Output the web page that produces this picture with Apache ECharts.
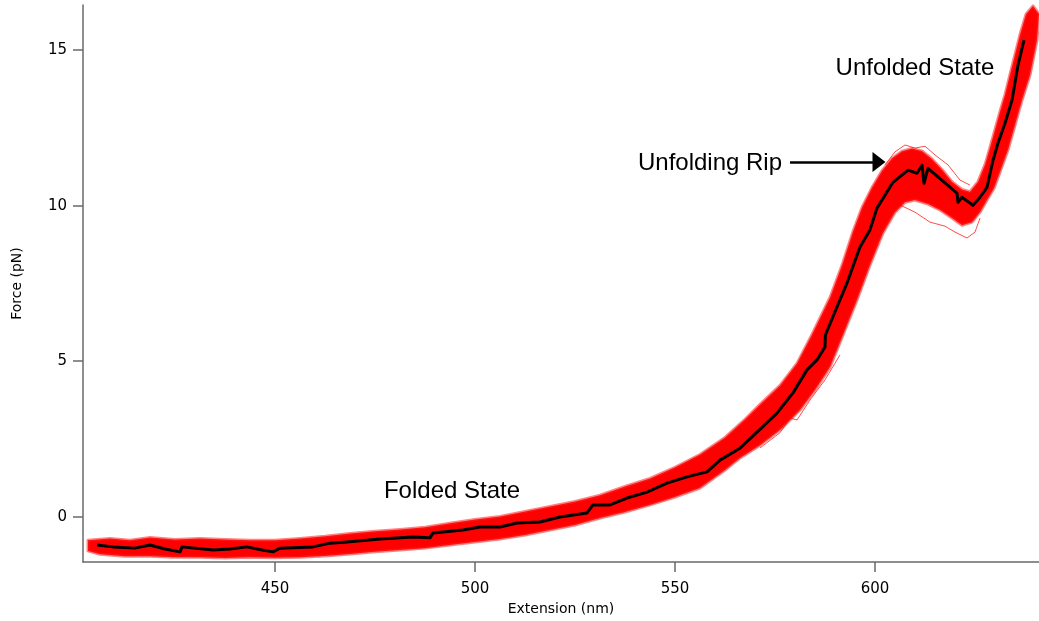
<!DOCTYPE html>
<html>
<head>
<meta charset="utf-8">
<script src="https://cdn.jsdelivr.net/npm/echarts@6/dist/echarts.min.js"></script>
<style>
html,body{margin:0;padding:0;background:#fff;}
#chart{width:1039px;height:621px;}
</style>
</head>
<body>
<div id="chart"></div>
<script>
// ---- tick labels ----
const xTicks = [450, 500, 550, 600];
const yTicks = [0, 5, 10, 15];

// ---- black (average) trace ----
const blackX = [405.5,409.5,415.0,418.75,422.5,426.25,426.75,434.5,438.75,443.0,446.75,449.5,451.25,459.5,463.75,468.0,476.25,484.5,488.75,489.5,497.0,501.25,506.25,510.5,516.25,521.25,528.0,529.5,533.75,538.0,543.0,548.0,553.0,558.0,561.25,566.25,570.5,575.5,579.5,583.0,585.5,587.5,587.6,590.5,593.0,596.25,598.75,600.5,604.5,608.25,610.5,611.75,612.25,613.25,620.5,620.75,621.75,624.5,626.25,628.0,629.5,630.75,632.5,634.25,635.75,637.25];
const blackY = [-0.91,-0.97,-1.01,-0.91,-1.04,-1.13,-0.97,-1.07,-1.04,-0.97,-1.07,-1.13,-1.01,-0.97,-0.85,-0.81,-0.72,-0.65,-0.68,-0.52,-0.43,-0.33,-0.33,-0.20,-0.17,-0.01,0.12,0.38,0.38,0.60,0.79,1.08,1.28,1.44,1.82,2.20,2.72,3.33,3.98,4.72,5.04,5.46,5.84,6.74,7.51,8.67,9.22,9.92,10.75,11.14,11.04,11.30,10.72,11.20,10.40,10.11,10.27,10.01,10.27,10.59,11.46,12.01,12.65,13.39,14.52,15.32];

// ---- red band of individual traces: upper/left edge (left to right) ----
const bandUpperX = [403.25,408.75,413.75,418.75,425.0,431.25,437.5,443.75,450.0,456.25,462.5,468.75,475.0,481.25,487.5,493.75,500.0,506.25,512.5,518.75,525.0,531.25,537.5,543.75,550.0,556.25,562.5,567.5,571.25,576.25,580.5,584.25,588.75,591.75,594.5,596.75,599.25,601.75,604.25,606.75,609.25,611.75,614.25,616.75,619.25,621.75,623.75,625.75,627.5,628.75,630.0,631.25,632.5,633.75,635.0,636.25,637.75,639.5];
const bandUpperY = [-0.76,-0.70,-0.76,-0.67,-0.73,-0.70,-0.73,-0.76,-0.76,-0.70,-0.63,-0.54,-0.47,-0.41,-0.34,-0.21,-0.09,0.01,0.17,0.33,0.49,0.69,0.97,1.23,1.59,2.00,2.55,3.13,3.61,4.22,4.93,5.86,7.05,8.08,9.17,9.94,10.58,11.12,11.52,11.75,11.84,11.76,11.50,11.16,10.77,10.52,10.45,10.77,11.32,11.87,12.45,13.03,13.57,14.22,14.86,15.50,16.15,16.42];
// ---- red band: lower/right edge (right to left) ----
const bandLowerX = [641.0,640.5,638.75,636.75,635.0,633.25,631.25,629.75,628.0,626.25,624.25,621.75,619.25,616.25,613.25,610.0,607.5,605.0,602.0,598.75,595.5,592.5,588.75,585.0,581.25,576.25,571.25,566.25,562.5,556.25,550.0,543.75,537.5,531.25,525.0,518.75,512.5,506.25,500.0,493.75,487.5,481.25,475.0,468.75,462.5,456.25,450.0,443.75,437.5,431.25,425.0,418.75,412.5,406.25,403.25];
const bandLowerY = [16.16,15.32,14.20,13.39,12.59,11.79,11.08,10.56,10.18,9.79,9.47,9.37,9.60,9.86,10.05,10.18,10.11,9.79,9.12,8.09,6.97,6.00,4.81,4.07,3.43,2.79,2.30,1.89,1.50,0.92,0.63,0.38,0.15,-0.04,-0.27,-0.43,-0.59,-0.72,-0.81,-0.91,-1.01,-1.07,-1.13,-1.20,-1.26,-1.30,-1.32,-1.30,-1.33,-1.30,-1.30,-1.27,-1.27,-1.21,-1.10];

// ---- a few stray individual traces just outside the band ----
const stray3X = [606.25,610.0,613.75,617.5,620.0,623.0,625.0,626.25];
const stray3Y = [10.02,9.79,9.47,9.34,9.15,8.96,9.15,9.60];
const stray4X = [602.5,605.0,607.5,610.0,612.5,615.0,618.25,621.25,623.75];
const stray4Y = [11.31,11.73,11.95,11.85,11.91,11.63,11.31,10.82,10.66];
const stray5X = [571.25,576.25,578.75,580.5,583.75,587.5,591.25];
const stray5Y = [2.21,2.70,3.17,3.11,3.75,4.40,5.20];

// ---- annotations ----
const annotations = [
  {text: 'Unfolded State', x: 610.0, y: 14.40},
  {text: 'Unfolding Rip', x: 558.75, y: 11.36},
  {text: 'Folded State', x: 494.25, y: 0.83}
];
const arrowFrom = [578.75, 11.40];
const arrowTo = [601.0, 11.40];

const zip = (xs, ys) => xs.map((v, i) => [v, ys[i]]);

const chart = echarts.init(document.getElementById('chart'), null, {renderer: 'canvas'});

const strayStyle = {color: 'rgba(255,0,0,0.7)', width: 1};
function strayLine(xs, ys) {
  return {type: 'line', data: zip(xs, ys), symbol: 'none', silent: true,
          lineStyle: strayStyle, z: 2, animation: false};
}

const option = {
  animation: false,
  backgroundColor: '#ffffff',
  grid: {left: 83, right: 0, top: 5, bottom: 59, containLabel: false, outerBoundsMode: 'none'},
  xAxis: {
    type: 'value', min: 402, max: 641,
    name: 'Extension (nm)', nameLocation: 'middle', nameGap: 40,
    nameTextStyle: {fontFamily: 'DejaVu Sans', fontSize: 14, color: '#000'},
    axisLine: {show: true, onZero: false, lineStyle: {color: '#6a6a6a', width: 1.5}},
    axisTick: {show: true, inside: false, length: 10, customValues: xTicks, lineStyle: {color: '#6a6a6a', width: 1.5}},
    axisLabel: {customValues: xTicks, margin: 20, fontFamily: 'DejaVu Sans', fontSize: 15, color: '#000'},
    splitLine: {show: false}
  },
  yAxis: {
    type: 'value', min: -1.456, max: 16.45,
    name: 'Force (pN)', nameLocation: 'middle', nameGap: 59, nameRotate: 90,
    nameTextStyle: {fontFamily: 'DejaVu Sans', fontSize: 14, color: '#000'},
    axisLine: {show: true, onZero: false, lineStyle: {color: '#6a6a6a', width: 1.5}},
    axisTick: {show: true, inside: false, length: 10, customValues: yTicks, lineStyle: {color: '#6a6a6a', width: 1.5}},
    axisLabel: {customValues: yTicks, margin: 16, fontFamily: 'DejaVu Sans', fontSize: 15, color: '#000'},
    splitLine: {show: false}
  },
  series: [
    {
      type: 'custom', silent: true, z: 1,
      data: [[bandUpperX[0], bandUpperY[0]]],
      renderItem: function (params, api) {
        const pts = [];
        for (let i = 0; i < bandUpperX.length; i++) pts.push(api.coord([bandUpperX[i], bandUpperY[i]]));
        for (let i = 0; i < bandLowerX.length; i++) pts.push(api.coord([bandLowerX[i], bandLowerY[i]]));
        return {type: 'polygon', shape: {points: pts},
                style: {fill: '#ff0000', stroke: 'rgba(255,30,30,0.55)', lineWidth: 3, lineJoin: 'round'}};
      }
    },
    strayLine(stray3X, stray3Y),
    strayLine(stray4X, stray4Y),
    strayLine(stray5X, stray5Y),
    {
      type: 'line', data: zip(blackX, blackY), symbol: 'none', silent: true, z: 5,
      lineStyle: {color: '#000', width: 3, join: 'round'},
      markLine: {
        silent: true, symbol: ['none', 'triangle'], symbolSize: [20, 13],
        lineStyle: {color: '#000', width: 2.5, type: 'solid'},
        label: {show: false},
        data: [[{coord: arrowFrom}, {coord: arrowTo}]]
      },
      markPoint: {
        silent: true, symbol: 'circle', symbolSize: 0,
        label: {show: true, position: 'inside', fontFamily: 'Liberation Sans', fontSize: 24, color: '#000',
                formatter: p => p.name},
        data: annotations.map(a => ({name: a.text, coord: [a.x, a.y]}))
      }
    }
  ]
};
chart.setOption(option);
</script>
</body>
</html>
